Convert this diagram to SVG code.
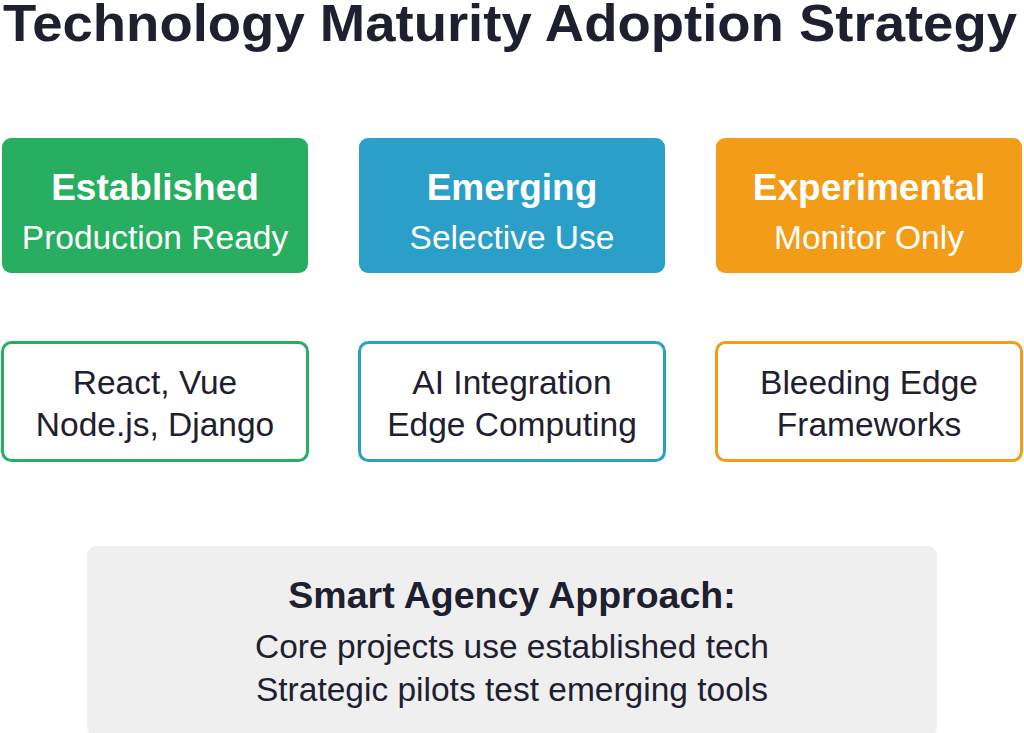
<svg xmlns="http://www.w3.org/2000/svg" width="1024" height="733" viewBox="0 0 1024 733">
<style>
text{font-family:"Liberation Sans",Arial,sans-serif;text-anchor:middle}
.title{font-size:52px;font-weight:bold;fill:#1e2030}
.h{font-size:37px;font-weight:bold;fill:#ffffff}
.s{font-size:33.5px;fill:#ffffff}
.t{font-size:33.5px;fill:#1e2030}
.b{font-size:37.5px;font-weight:bold;fill:#1e2030}
.card{fill:#ffffff;stroke-width:3}
</style>
<rect width="1024" height="733" fill="#ffffff"/>
<text class="title" x="510" y="41" textLength="1014" lengthAdjust="spacingAndGlyphs">Technology Maturity Adoption Strategy</text>
<g id="established">
<rect x="2" y="138" width="306" height="135" rx="9" fill="#27ae60"/>
<text class="h" x="155" y="200">Established</text>
<text class="s" x="155" y="249">Production Ready</text>
</g>
<g id="emerging">
<rect x="359" y="138" width="306" height="135" rx="9" fill="#2a9fc7"/>
<text class="h" x="512" y="200">Emerging</text>
<text class="s" x="512" y="249">Selective Use</text>
</g>
<g id="experimental">
<rect x="716" y="138" width="306" height="135" rx="9" fill="#f39c17"/>
<text class="h" x="869" y="200">Experimental</text>
<text class="s" x="869" y="249">Monitor Only</text>
</g>
<g id="established-tech">
<rect class="card" x="2.5" y="342.5" width="305" height="118" rx="9" stroke="#27ae60"/>
<text class="t" x="155" y="394">React, Vue</text>
<text class="t" x="155" y="436">Node.js, Django</text>
</g>
<g id="emerging-tech">
<rect class="card" x="359.5" y="342.5" width="305" height="118" rx="9" stroke="#2a9fc7"/>
<text class="t" x="512" y="394">AI Integration</text>
<text class="t" x="512" y="436">Edge Computing</text>
</g>
<g id="experimental-tech">
<rect class="card" x="716.5" y="342.5" width="305" height="118" rx="9" stroke="#f39c17"/>
<text class="t" x="869" y="394">Bleeding Edge</text>
<text class="t" x="869" y="436">Frameworks</text>
</g>
<g id="approach">
<rect x="87" y="546" width="850" height="190" rx="9" fill="#efefef"/>
<text class="b" x="512" y="608">Smart Agency Approach:</text>
<text class="t" x="512" y="658">Core projects use established tech</text>
<text class="t" x="512" y="701">Strategic pilots test emerging tools</text>
</g>
<g id="connectors"/>
</svg>
